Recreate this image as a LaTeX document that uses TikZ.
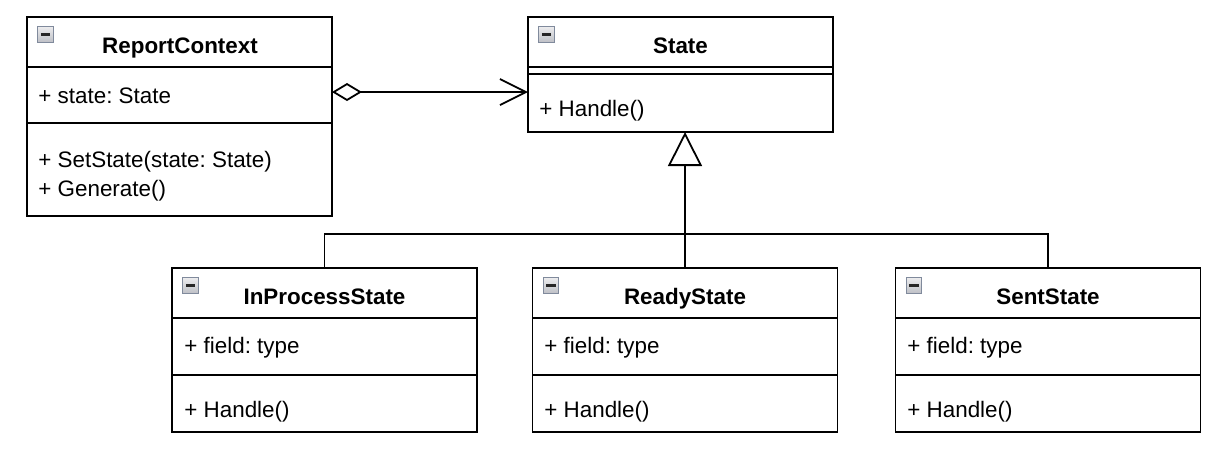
\documentclass[tikz,border=0pt]{standalone}
\usepackage{fontspec}
\setmainfont{Liberation Sans}
\usetikzlibrary{arrows.meta}
\definecolor{iconborder}{RGB}{128,138,156}
\definecolor{icontop}{RGB}{236,236,238}
\definecolor{iconbot}{RGB}{190,192,198}
\frenchspacing
\begin{document}
\begin{tikzpicture}[x=0.5pt,y=-0.5pt,
  font=\fontsize{11.2}{13.4}\selectfont,
  box/.style={draw=black, line width=0.9pt, fill=white, inner sep=0pt, outer sep=0pt, minimum width=152.5pt, anchor=north west},
  ttl/.style={font=\fontsize{11.2}{13.4}\selectfont\bfseries, inner sep=0pt, text height=8pt, text depth=0pt},
  mem/.style={anchor=west, inner sep=0pt, text height=8pt, text depth=0pt},
  icon/.style={draw=iconborder, line width=0.6pt, top color=icontop, bottom color=iconbot, minimum size=7.8pt, inner sep=0pt, anchor=north west,
    path picture={\draw[line width=1.1pt, black!85] ([xshift=1.6pt]path picture bounding box.west) -- ([xshift=-1.6pt]path picture bounding box.east);}},
  link/.style={draw=black, line width=0.9pt},
]
\fill[white] (0,0) rectangle (1220,457);
\useasboundingbox (0,0) rectangle (1220,457);

% ReportContext
\node[box, minimum height=25pt] (rc-h) at (27,17) {};
\node[box, minimum height=28pt] (rc-a) at (rc-h.south west) {};
\node[box, minimum height=46.5pt] (rc-m) at (rc-a.south west) {};
\node[icon] (rc-i) at ([xshift=5pt,yshift=-4.5pt]rc-h.north west) {};
\node[ttl] (rc-t) at (180,45) {ReportContext};
\node[mem] (rc-a1) at (38,95) {+ state: State};
\node[mem] (rc-m1) at (38,159) {+ SetState(state: State)};
\node[mem] (rc-m2) at (38,188) {+ Generate()};

% State
\node[box, minimum height=25pt] (st-h) at (528,17) {};
\node[box, minimum height=3.5pt] (st-a) at (st-h.south west) {};
\node[box, minimum height=29pt] (st-m) at (st-a.south west) {};
\node[icon] (st-i) at ([xshift=5pt,yshift=-4.5pt]st-h.north west) {};
\node[ttl] (st-t) at (680.5,45) {State};
\node[mem] (st-m1) at (539,108) {+ Handle()};

% InProcessState
\node[box, minimum height=25pt] (ip-h) at (172,268) {};
\node[box, minimum height=28.5pt] (ip-a) at (ip-h.south west) {};
\node[box, minimum height=28.5pt] (ip-m) at (ip-a.south west) {};
\node[icon] (ip-i) at ([xshift=5pt,yshift=-4.5pt]ip-h.north west) {};
\node[ttl] (ip-t) at (324.5,296) {InProcessState};
\node[mem] (ip-a1) at (184,345) {+ field: type};
\node[mem] (ip-m1) at (184,409) {+ Handle()};

% ReadyState
\node[box, minimum height=25pt] (rd-h) at (532.5,268) {};
\node[box, minimum height=28.5pt] (rd-a) at (rd-h.south west) {};
\node[box, minimum height=28.5pt] (rd-m) at (rd-a.south west) {};
\node[icon] (rd-i) at ([xshift=5pt,yshift=-4.5pt]rd-h.north west) {};
\node[ttl] (rd-t) at (685,296) {ReadyState};
\node[mem] (rd-a1) at (544,345) {+ field: type};
\node[mem] (rd-m1) at (544,409) {+ Handle()};

% SentState
\node[box, minimum height=25pt] (sn-h) at (895.5,268) {};
\node[box, minimum height=28.5pt] (sn-a) at (sn-h.south west) {};
\node[box, minimum height=28.5pt] (sn-m) at (sn-a.south west) {};
\node[icon] (sn-i) at ([xshift=5pt,yshift=-4.5pt]sn-h.north west) {};
\node[ttl] (sn-t) at (1048,296) {SentState};
\node[mem] (sn-a1) at (907,345) {+ field: type};
\node[mem] (sn-m1) at (907,409) {+ Handle()};

% aggregation
\coordinate (agg) at ([yshift=1.5pt]rc-a.east);
\draw[link, {Diamond[open, length=15pt, width=9pt]}-{Straight Barb[length=13pt, width=13pt]}]
  (agg) -- (agg -| st-m.west);

% generalization
\coordinate (bus) at (685,234);
\draw[link] (ip-h.north) -- (ip-h.north |- bus) -- (sn-h.north |- bus) -- (sn-h.north);
\draw[link, -{Triangle[open, length=17pt, width=17pt]}] (rd-h.north) -- (rd-h.north |- st-m.south);
\end{tikzpicture}
\end{document}
